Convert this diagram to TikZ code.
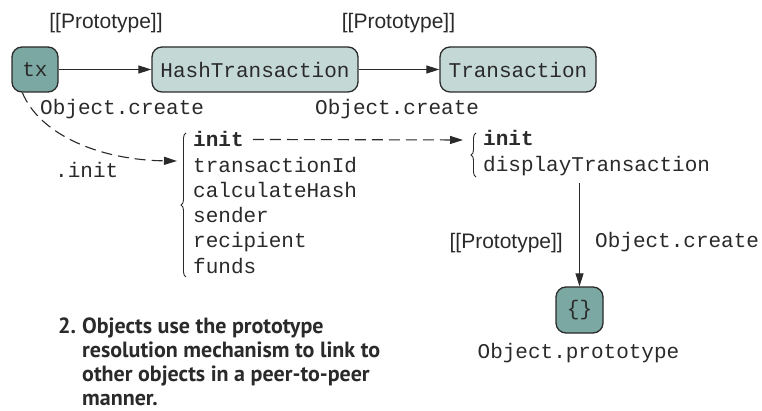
\documentclass[tikz,border=0pt]{standalone}
\usepackage{fontspec}
\setmainfont{Liberation Sans}
\setmonofont{Liberation Mono}
\newfontfamily\capfont{PT Sans}
\usetikzlibrary{arrows.meta,decorations.pathreplacing}
\definecolor{darkteal}{HTML}{7BA8A2}
\definecolor{lightteal}{HTML}{C4D9D6}
\definecolor{ink}{HTML}{2A2A2A}
\begin{document}
\begin{tikzpicture}[x=1pt,y=-1pt,
  mono/.style={font=\fontsize{21}{25.5}\selectfont\ttfamily, text=ink, inner sep=0pt},
  sans/.style={font=\fontsize{21}{25}\selectfont, text=ink, inner sep=0pt},
  objbox/.style={draw=ink, line width=1.3pt, rounded corners=10pt, minimum height=45pt, inner sep=0pt, font=\fontsize{21}{25}\selectfont\ttfamily, text=ink},
  link/.style={draw=ink, line width=1.1pt, -{Triangle[length=13pt,width=8pt]}},
  dlink/.style={link, dash pattern=on 11pt off 6pt},
  bracedeco/.style={draw=ink, line width=0.9pt, decorate, decoration={brace, amplitude=5pt}},
  caption/.style={font=\fontsize{22}{24}\selectfont\capfont\bfseries, text=ink, inner sep=0pt, anchor=base west}
]
\fill[white] (0,0) rectangle (762,411);
\useasboundingbox (0,0) rectangle (762,411);

% boxes
\node[objbox, fill=darkteal, minimum width=46pt] (tx) at (35,69.5) {tx};
\node[objbox, fill=lightteal, minimum width=206pt] (hash) at (255,69.5) {HashTransaction};
\node[objbox, fill=lightteal, minimum width=156pt] (trans) at (518,69.5) {Transaction};
\node[objbox, fill=darkteal, minimum width=47pt, minimum height=46pt] (proto) at (579.5,310) {\{\}};

% labels
\node[sans, anchor=base] (p1) at (106,29) {[[Prototype]]};
\node[sans, anchor=base] (p2) at (398.5,29) {[[Prototype]]};
\node[mono, anchor=base west] (oc1) at (40,115) {Object.create};
\node[mono, anchor=base west] (oc2) at (315,115) {Object.create};
\node[mono, anchor=base west] (dotinit) at (55,178) {.init};

% HashTransaction members
\node[mono, anchor=base west] (h1) at (193,147) {\textbf{init}};
\node[mono, anchor=base west] (h2) at (193,172.2) {transactionId};
\node[mono, anchor=base west] (h3) at (193,197.4) {calculateHash};
\node[mono, anchor=base west] (h4) at (193,222.6) {sender};
\node[mono, anchor=base west] (h5) at (193,247.8) {recipient};
\node[mono, anchor=base west] (h6) at (193,273) {funds};
\draw[bracedeco] (186,277) -- (186,133);

% Transaction members
\node[mono, anchor=base west] (t1) at (483,146) {\textbf{init}};
\node[mono, anchor=base west] (t2) at (483,171.5) {displayTransaction};
\draw[bracedeco] (476,177) -- (476,133);

% Object.prototype labels
\node[sans, anchor=base east] (p3) at (563,249) {[[Prototype]]};
\node[mono, anchor=base west] (oc3) at (595,248) {Object.create};
\node[mono, anchor=base] (oproto) at (578.5,358) {Object.prototype};

% caption
\node[caption] (cap1) at (58,333) {\makebox[24pt][l]{2.}Objects use the prototype};
\node[caption] (cap2) at (82,357) {resolution mechanism to link to};
\node[caption] (cap3) at (82,381) {other objects in a peer-to-peer};
\node[caption] (cap4) at (82,405) {manner.};

% connectors
\coordinate (hashlist) at (177,161);
\coordinate (translist) at (463,140);
\coordinate (dtbottom) at (579.5,183);
\draw[link] (tx) -- (hash);
\draw[link] (hash) -- (trans);
\draw[dlink] ([xshift=11pt]tx.south west) .. controls (40,135) and (100,160) .. (hashlist);
\draw[dlink] ([xshift=9pt]h1.east) -- (translist);
\draw[link] (dtbottom) -- (proto.north);
\end{tikzpicture}
\end{document}
